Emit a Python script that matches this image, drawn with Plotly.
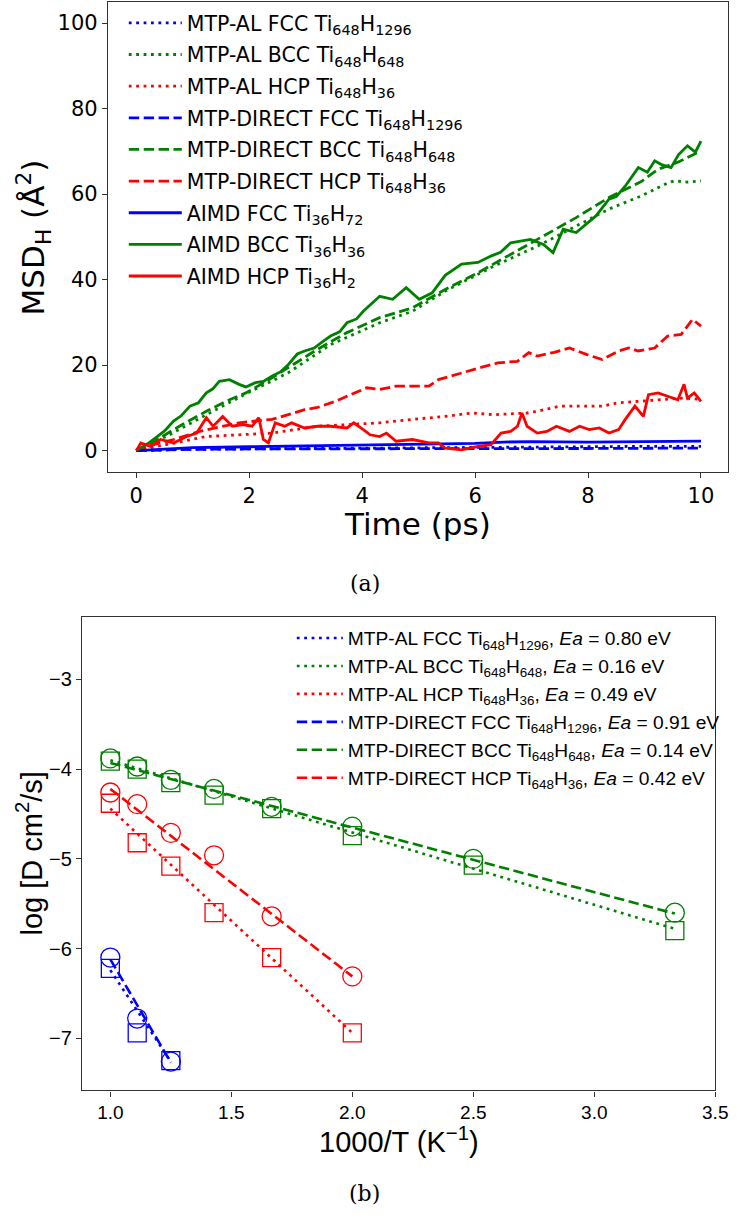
import plotly.graph_objects as go

W, H = 742, 1219

# ---------------- (a) MSD data ----------------
t_al_fcc = [0, 1, 2, 3, 4, 5, 6, 7, 8, 9, 10]
msd_al_fcc = [0, 0.3, 0.4, 0.5, 0.6, 0.7, 0.8, 0.8, 0.9, 1.0, 1.0]

t_al_bcc = [0, 0.6, 1.24, 1.9, 2.69, 3.44, 4.31, 4.89, 5.5, 6.34, 7.1, 7.79, 8.37, 8.95, 9.41, 9.53, 9.75, 10]
msd_al_bcc = [0, 3.8, 8.4, 13.0, 18.2, 24.8, 29.9, 32.6, 37.5, 43.2, 47.8, 52.5, 56.5, 59.6, 62.6, 63.1, 62.8, 63.1]

t_al_hcp = [0, 0.3, 0.66, 1.24, 1.82, 2.4, 3.21, 3.73, 4.31, 4.89, 5.47, 5.94, 6.34, 6.92, 7.1, 7.5, 7.97, 8.25, 8.54, 8.89, 9.3, 9.7, 10]
msd_al_hcp = [0, 0.8, 1.8, 3.3, 3.7, 4.1, 5.7, 6.1, 6.5, 7.3, 8.0, 8.8, 8.4, 8.8, 9.2, 10.4, 10.4, 10.4, 11.2, 11.5, 12.0, 12.3, 12.0]

t_di_fcc = [0, 1, 2, 4, 6, 8, 10]
msd_di_fcc = [0, 0.3, 0.4, 0.4, 0.5, 0.5, 0.6]

t_di_bcc = [0, 0.37, 0.8, 1.24, 1.6, 1.94, 2.3, 2.69, 3.21, 3.73, 4.31, 4.89, 5.2, 5.47, 6.05, 6.63, 7.21, 7.79, 8.37, 8.95, 9.24, 9.6, 10]
msd_di_bcc = [0, 2.6, 6.0, 9.2, 11.6, 13.5, 16.2, 19.4, 23.7, 27.6, 31.1, 33.4, 35.6, 37.7, 41.6, 46.0, 50.2, 54.5, 59.2, 63.0, 65.8, 67.5, 70.1]

t_di_hcp = [0, 0.1, 0.3, 0.66, 1.12, 1.53, 1.82, 2.1, 2.4, 2.69, 2.98, 3.21, 3.5, 3.73, 4.08, 4.31, 4.6, 4.89, 5.18, 5.35, 5.76, 6.17, 6.4, 6.75, 6.95, 7.1, 7.4, 7.67, 7.97, 8.25, 8.54, 8.72, 8.89, 9.18, 9.41, 9.65, 9.85, 10]
msd_di_hcp = [0, 0.7, 1.4, 2.6, 4.5, 5.7, 6.5, 6.9, 7.3, 8.4, 9.6, 10.1, 11.4, 12.7, 14.7, 14.3, 15.1, 15.1, 15.1, 16.6, 18.2, 19.7, 20.5, 20.9, 22.9, 22.1, 23.0, 24.0, 22.5, 21.3, 23.3, 24.0, 23.3, 24.0, 26.8, 27.2, 30.7, 29.1]

t_ai_fcc = [0, 0.5, 1, 2, 3, 4, 5, 6, 6.5, 7, 8, 9, 9.5, 10]
msd_ai_fcc = [0, 0.4, 0.7, 0.9, 1.1, 1.4, 1.6, 1.7, 2.0, 2.1, 2.0, 2.1, 2.3, 2.2]

t_ai_bcc = [0, 0.2, 0.37, 0.5, 0.66, 0.8, 0.95, 1.1, 1.24, 1.35, 1.47, 1.65, 1.82, 1.94, 2.11, 2.25, 2.4, 2.55, 2.69, 2.85, 2.98, 3.15, 3.30, 3.44, 3.6, 3.73, 3.9, 4.02, 4.15, 4.31, 4.54, 4.78, 5.01, 5.24, 5.47, 5.6, 5.76, 6.05, 6.28, 6.45, 6.63, 6.98, 7.21, 7.38, 7.56, 7.79, 7.95, 8.14, 8.37, 8.5, 8.66, 8.89, 9.05, 9.18, 9.3, 9.47, 9.6, 9.76, 9.9, 10]
msd_ai_bcc = [0, 1.6, 3.3, 4.6, 6.9, 8.2, 10.4, 11.2, 13.5, 14.4, 16.2, 16.6, 15.5, 14.9, 15.9, 16.2, 17.4, 18.4, 20.1, 22.6, 23.3, 24.0, 25.5, 26.8, 27.8, 29.9, 30.8, 32.6, 34.2, 36.1, 35.4, 38.1, 35.4, 36.9, 41.0, 42.2, 43.6, 44.0, 45.5, 46.4, 48.6, 49.4, 48.2, 46.3, 51.8, 51.0, 52.8, 54.9, 58.8, 59.4, 61.9, 66.2, 65.1, 67.8, 66.9, 66.2, 69.2, 71.3, 69.8, 72.4]

t_ai_hcp = [0, 0.08, 0.25, 0.43, 0.66, 0.89, 1.07, 1.24, 1.36, 1.53, 1.7, 1.88, 2.05, 2.17, 2.25, 2.34, 2.46, 2.63, 2.75, 2.98, 3.21, 3.44, 3.73, 3.85, 4.02, 4.14, 4.31, 4.43, 4.6, 4.89, 5.18, 5.35, 5.47, 5.76, 6.05, 6.28, 6.46, 6.63, 6.75, 6.83, 6.92, 7.1, 7.27, 7.44, 7.67, 7.85, 8.02, 8.2, 8.37, 8.54, 8.66, 8.75, 8.83, 8.98, 9.07, 9.24, 9.41, 9.59, 9.7, 9.76, 9.88, 10]
msd_ai_hcp = [0, 1.8, 1.0, 2.6, 1.8, 3.3, 4.1, 7.7, 5.7, 8.0, 5.7, 6.1, 5.7, 7.7, 2.6, 1.8, 6.5, 5.7, 6.5, 5.3, 5.7, 5.7, 5.3, 6.5, 4.9, 3.7, 3.3, 4.1, 2.2, 2.6, 1.8, 1.8, 0.6, 0.2, 1.0, 1.4, 4.1, 4.5, 5.7, 8.8, 5.7, 4.1, 4.5, 5.7, 4.5, 5.7, 4.9, 5.3, 4.1, 4.9, 7.3, 8.8, 10.4, 8.0, 13.1, 13.5, 12.7, 11.9, 15.5, 12.3, 13.5, 11.5]

# ---------------- (b) diffusion data ----------------
inv_T = [1.0, 1.111, 1.25, 1.4286, 1.6667, 2.0, 2.5, 3.333]
logD_al_fcc = [-6.22, -6.94, -7.25]
logD_al_bcc = [-3.91, -4.00, -4.15, -4.29, -4.44, -4.74, -5.07, -5.80]
logD_al_hcp = [-4.38, -4.82, -5.08, -5.60, -6.10, -6.94]
logD_di_fcc = [-6.10, -6.78, -7.26]
logD_di_bcc = [-3.88, -3.97, -4.12, -4.22, -4.42, -4.64, -5.00, -5.60]
logD_di_hcp = [-4.26, -4.39, -4.71, -4.96, -5.64, -6.31]

# fitted Arrhenius lines: end points
fit_x_fcc = [1.0, 1.25]
fit_x_bcc = [1.0, 3.333]
fit_x_hcp = [1.0, 2.0]
fit_al_fcc = [-6.24, -7.26]
fit_al_bcc = [-3.90, -5.78]
fit_al_hcp = [-4.44, -6.94]
fit_di_fcc = [-6.12, -7.27]
fit_di_bcc = [-3.93, -5.61]
fit_di_hcp = [-4.22, -6.31]

Ea_al = ["0.80", "0.16", "0.49"]
Ea_di = ["0.91", "0.14", "0.42"]

BLUE, GREEN, RED = "#0000ff", "#008000", "#ff0000"
DOT = "2.8px,4.6px"
DASH = "10.4px,4.5px"

fig = go.Figure()

# ---- panel (a) ----
top_series = [
    (t_al_fcc, msd_al_fcc, BLUE, DOT, "MTP-AL FCC Ti<sub>648</sub>H<sub>1296</sub>"),
    (t_al_bcc, msd_al_bcc, GREEN, DOT, "MTP-AL BCC Ti<sub>648</sub>H<sub>648</sub>"),
    (t_al_hcp, msd_al_hcp, RED, DOT, "MTP-AL HCP Ti<sub>648</sub>H<sub>36</sub>"),
    (t_di_fcc, msd_di_fcc, BLUE, DASH, "MTP-DIRECT FCC Ti<sub>648</sub>H<sub>1296</sub>"),
    (t_di_bcc, msd_di_bcc, GREEN, DASH, "MTP-DIRECT BCC Ti<sub>648</sub>H<sub>648</sub>"),
    (t_di_hcp, msd_di_hcp, RED, DASH, "MTP-DIRECT HCP Ti<sub>648</sub>H<sub>36</sub>"),
    (t_ai_fcc, msd_ai_fcc, BLUE, "solid", "AIMD FCC Ti<sub>36</sub>H<sub>72</sub>"),
    (t_ai_bcc, msd_ai_bcc, GREEN, "solid", "AIMD BCC Ti<sub>36</sub>H<sub>36</sub>"),
    (t_ai_hcp, msd_ai_hcp, RED, "solid", "AIMD HCP Ti<sub>36</sub>H<sub>2</sub>"),
]
for i, (x, y, c, d, name) in enumerate(top_series):
    fig.add_trace(go.Scatter(x=x, y=y, mode="lines", name=name,
                             line=dict(color=c, width=2.8, dash=d),
                             legend="legend", legendgroup=f"a{i}",
                             xaxis="x", yaxis="y"))

# ---- panel (b) ----
fits = [
    (fit_x_fcc, fit_al_fcc, BLUE, DOT, f"MTP-AL FCC Ti<sub>648</sub>H<sub>1296</sub>, <i>Ea</i> = {Ea_al[0]} eV"),
    (fit_x_bcc, fit_al_bcc, GREEN, DOT, f"MTP-AL BCC Ti<sub>648</sub>H<sub>648</sub>, <i>Ea</i> = {Ea_al[1]} eV"),
    (fit_x_hcp, fit_al_hcp, RED, DOT, f"MTP-AL HCP Ti<sub>648</sub>H<sub>36</sub>, <i>Ea</i> = {Ea_al[2]} eV"),
    (fit_x_fcc, fit_di_fcc, BLUE, DASH, f"MTP-DIRECT FCC Ti<sub>648</sub>H<sub>1296</sub>, <i>Ea</i> = {Ea_di[0]} eV"),
    (fit_x_bcc, fit_di_bcc, GREEN, DASH, f"MTP-DIRECT BCC Ti<sub>648</sub>H<sub>648</sub>, <i>Ea</i> = {Ea_di[1]} eV"),
    (fit_x_hcp, fit_di_hcp, RED, DASH, f"MTP-DIRECT HCP Ti<sub>648</sub>H<sub>36</sub>, <i>Ea</i> = {Ea_di[2]} eV"),
]
for i, (x, y, c, d, name) in enumerate(fits):
    fig.add_trace(go.Scatter(x=x, y=y, mode="lines", name=name,
                             line=dict(color=c, width=2.6, dash=d),
                             legend="legend2", legendgroup=f"b{i}",
                             xaxis="x2", yaxis="y2"))

marks = [
    (inv_T[:3], logD_al_fcc, BLUE, "square-open"),
    (inv_T[:8], logD_al_bcc, GREEN, "square-open"),
    (inv_T[:6], logD_al_hcp, RED, "square-open"),
    (inv_T[:3], logD_di_fcc, BLUE, "circle-open"),
    (inv_T[:8], logD_di_bcc, GREEN, "circle-open"),
    (inv_T[:6], logD_di_hcp, RED, "circle-open"),
]
for x, y, c, s in marks:
    fig.add_trace(go.Scatter(x=x, y=y, mode="markers", showlegend=False,
                             marker=dict(symbol=s, size=18 if s.startswith("square") else 19,
                                         color=c, line=dict(color=c, width=1.3)),
                             xaxis="x2", yaxis="y2"))

axis_common = dict(showline=True, mirror=True, linecolor="#333333", linewidth=1.4,
                   ticks="outside", ticklen=5, tickwidth=1.3, tickcolor="#333333",
                   showgrid=False, zeroline=False)

fig.update_layout(
    width=W, height=H,
    margin=dict(l=0, r=0, t=0, b=0),
    paper_bgcolor="white", plot_bgcolor="white",
    xaxis=dict(domain=[110 / W, 740.5 / W], anchor="y", range=[-0.5, 10.47],
               tickmode="array", tickvals=[0, 2, 4, 6, 8, 10],
               tickfont=dict(family="DejaVu Sans", size=21, color="black"), **axis_common),
    yaxis=dict(domain=[1 - 472 / H, 1 - 1.7 / H], anchor="x", range=[-5, 105],
               tickmode="array", tickvals=[0, 20, 40, 60, 80, 100],
               tickfont=dict(family="DejaVu Sans", size=21, color="black"), **axis_common),
    xaxis2=dict(domain=[83.5 / W, 728 / W], anchor="y2", range=[0.883, 3.5],
                tickmode="array", tickvals=[1.0, 1.5, 2.0, 2.5, 3.0, 3.5],
                ticktext=["1.0", "1.5", "2.0", "2.5", "3.0", "3.5"],
                tickfont=dict(family="Liberation Sans", size=19, color="black"), **axis_common),
    yaxis2=dict(domain=[1 - 1090.3 / H, 1 - 616.7 / H], anchor="x2", range=[-7.58, -2.30],
                tickmode="array", tickvals=[-7, -6, -5, -4, -3],
                ticktext=["\u22127", "\u22126", "\u22125", "\u22124", "\u22123"],
                tickfont=dict(family="Liberation Sans", size=20, color="black"), **axis_common),
    legend=dict(x=126 / W, y=1 - 3 / H, xanchor="left", yanchor="top",
                bgcolor="rgba(0,0,0,0)", borderwidth=0,
                font=dict(family="DejaVu Sans", size=20.5, color="black"),
                traceorder="grouped", tracegroupgap=2, itemwidth=53),
    legend2=dict(x=297 / W, y=1 - 619 / H, xanchor="left", yanchor="top",
                 bgcolor="rgba(0,0,0,0)", borderwidth=0,
                 font=dict(family="Liberation Sans", size=19.2, color="black"),
                 traceorder="grouped", tracegroupgap=0, itemwidth=46),
    showlegend=True,
)

annos = [
    dict(text="Time (ps)", x=(110 + 740.5) / 2 / W, y=1 - 524 / H, font=dict(family="DejaVu Sans", size=31)),
    dict(text="MSD<sub>H</sub> (Å<sup>2</sup>)", x=35 / W, y=1 - 237 / H, textangle=-90,
         font=dict(family="DejaVu Sans", size=31)),
    dict(text="(a)", x=371 / W, y=1 - 583 / H, font=dict(family="DejaVu Serif", size=22)),
    dict(text="1000/T (K<sup>\u22121</sup>)", x=(83.5 + 728) / 2 / W, y=1 - 1140 / H,
         font=dict(family="Liberation Sans", size=29)),
    dict(text="log [D cm<sup>2</sup>/s]", x=30 / W, y=1 - 853 / H, textangle=-90,
         font=dict(family="Liberation Sans", size=29)),
    dict(text="(b)", x=371 / W, y=1 - 1193 / H, font=dict(family="DejaVu Serif", size=22)),
]
for a in annos:
    a.update(xref="paper", yref="paper", showarrow=False, xanchor="center", yanchor="middle")
    a["font"]["color"] = "black"
fig.update_layout(annotations=annos)

fig.write_html("out.html")
